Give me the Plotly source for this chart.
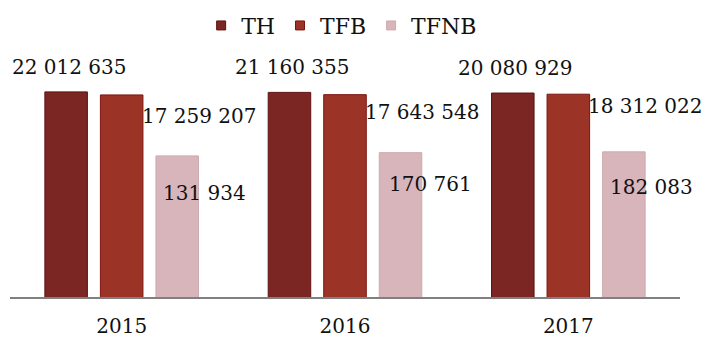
import math
import plotly.graph_objects as go

# Yearly totals per category
years = ["2015", "2016", "2017"]
th = [22012635, 21160355, 20080929]
tfb = [17259207, 17643548, 18312022]
tfnb = [131934, 170761, 182083]

series_names = ["TH", "TFB", "TFNB"]
fills = ["#7b2622", "#9b3427", "#d8b5bb"]
edges = ["#5e1212", "#7d1410", "#cdaab0"]

FONT = "DejaVu Serif"
LABEL_SIZE = 20
TEXT_COLOR = "#111111"


def fmt(v):
    # thousands separated by spaces
    return f"{v:,}".replace(",", " ")


fig = go.Figure()
for name, vals, fc, ec in zip(series_names, [th, tfb, tfnb], fills, edges):
    fig.add_trace(go.Bar(
        name=name, x=years, y=vals, showlegend=False,
        marker=dict(color=fc, line=dict(color=ec, width=1)),
        hoverinfo="skip",
    ))

# Legend keys: small squares in each series colour
for name, fc, ec in zip(series_names, fills, edges):
    fig.add_trace(go.Scatter(
        name=name, x=[None], y=[None], mode="markers",
        marker=dict(symbol="square", size=9, color=fc, line=dict(color=ec, width=1)),
        hoverinfo="skip",
    ))

# Value labels, placed next to their bars (x given as category index)
slot = 55.5  # pixel distance between neighbouring bars in a group
annotations = []
for i in range(len(years)):
    annotations.append(dict(
        x=i, y=math.log10(th[i]), xref="x", yref="y",
        text=fmt(th[i]), showarrow=False,
        xanchor="center", yanchor="middle",
        xshift=-slot + 3, yshift=25,
    ))

tfb_dy = [-21, -17, -12]
for i in range(len(years)):
    annotations.append(dict(
        x=i, y=math.log10(tfb[i]), xref="x", yref="y",
        text=fmt(tfb[i]), showarrow=False,
        xanchor="left", yanchor="middle",
        xshift=18, yshift=tfb_dy[i],
    ))

tfnb_dy = [-37, -31, -35]
tfnb_dx = [27, 30, 28]
for i in range(len(years)):
    annotations.append(dict(
        x=i, y=math.log10(tfnb[i]), xref="x", yref="y",
        text=fmt(tfnb[i]), showarrow=False,
        xanchor="center", yanchor="middle",
        xshift=slot + tfnb_dx[i], yshift=tfnb_dy[i],
    ))

for a in annotations:
    a["font"] = dict(family=FONT, size=LABEL_SIZE, color=TEXT_COLOR)

fig.update_layout(
    width=704, height=341,
    margin=dict(l=10, r=24, t=60, b=44, autoexpand=False),
    paper_bgcolor="white", plot_bgcolor="white",
    barmode="group", bargap=0.254, bargroupgap=0.234,
    font=dict(family=FONT, size=LABEL_SIZE, color=TEXT_COLOR),
    showlegend=True,
    legend=dict(
        orientation="h", x=0.495, xanchor="center", y=1.145, yanchor="middle",
        font=dict(family=FONT, size=22, color=TEXT_COLOR),
        itemwidth=30, tracegroupgap=0, bgcolor="rgba(0,0,0,0)",
    ),
    annotations=annotations,
)
fig.update_xaxes(
    type="category", range=[-0.5, len(years) - 0.5], automargin=False,
    showline=True, linecolor="#808080", linewidth=2,
    showgrid=False, zeroline=False, ticks="",
    ticklabelstandoff=10,
    tickfont=dict(family=FONT, size=20, color=TEXT_COLOR),
)
fig.update_yaxes(
    type="log", range=[0.22, 8.45],
    visible=False, showgrid=False, zeroline=False,
)

fig.write_html("out.html")
